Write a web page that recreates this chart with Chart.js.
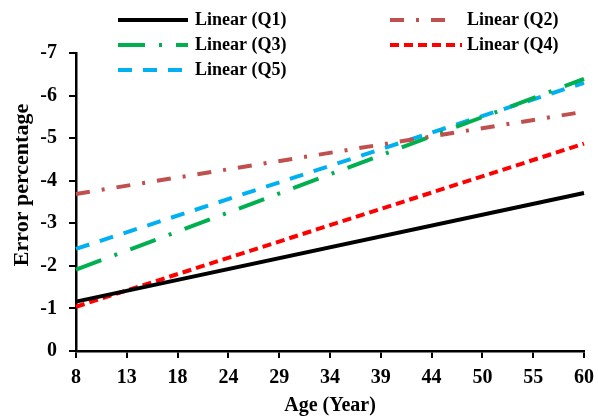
<!DOCTYPE html>
<html>
<head>
<meta charset="utf-8">
<script src="https://cdn.jsdelivr.net/npm/chart.js@4.4.1/dist/chart.umd.min.js"></script>
<style>
  body { margin: 0; background: #fff; }
</style>
</head>
<body>
<canvas id="grafico" width="598" height="416"></canvas>
<script>
const ctx = document.getElementById('grafico');

// eixo x (idade) e rotulos
let idades = ['8', '13', '18', '24', '29', '34', '39', '44', '50', '55', '60']
let yTicks = [0, -1, -2, -3, -4, -5, -6, -7]

// tendencias lineares: valor no inicio (8) e no fim (60)
let extremos = ['8', '60']
let q1 = [-1.16, -3.71]
let q2 = [-3.69, -5.62]
let q3 = [-1.91, -6.39]
let q4 = [-1.04, -4.87]
let q5 = [-2.40, -6.30]

const pontos = (vals) => extremos.map((x, i) => ({ x: x, y: vals[i] }))

const fonte = 'Liberation Serif, Times New Roman, serif'

// legenda em duas colunas + titulo do eixo y, desenhados a mao
const legenda = {
  id: 'legenda',
  afterDraw(chart) {
    const c = chart.ctx
    const pos = [
      { ds: 0, x: 118, y: 20, w: 70, tx: 195 },
      { ds: 1, x: 390, y: 20, w: 58, tx: 467 },
      { ds: 2, x: 118, y: 45, w: 70, tx: 195 },
      { ds: 3, x: 390, y: 45, w: 72, tx: 467 },
      { ds: 4, x: 118, y: 70, w: 68, tx: 195 }
    ]
    c.save()
    pos.forEach(p => {
      const d = chart.data.datasets[p.ds]
      c.strokeStyle = d.borderColor
      c.lineWidth = d.borderWidth
      c.setLineDash(d.borderDash || [])
      c.beginPath()
      c.moveTo(p.x, p.y)
      c.lineTo(p.x + p.w, p.y)
      c.stroke()
      c.setLineDash([])
      c.fillStyle = '#000'
      c.font = 'bold 18px ' + fonte
      c.textBaseline = 'middle'
      c.fillText(d.label, p.tx, p.y)
    })
    // titulo do eixo y (um pouco acima do centro, como no original)
    c.translate(22, 185)
    c.rotate(-Math.PI / 2)
    c.font = 'bold 22px ' + fonte
    c.textAlign = 'center'
    c.textBaseline = 'middle'
    c.fillText('Error percentage', 0, 0)
    c.restore()
  }
}

let grafico = new Chart(ctx, {
  type: 'line',
  data: {
    labels: idades,
    datasets: [
      { label: 'Linear (Q1)', data: pontos(q1), borderColor: '#000000', borderWidth: 4, borderDash: [] },
      { label: 'Linear (Q2)', data: pontos(q2), borderColor: '#C0504D', borderWidth: 4, borderDash: [14, 12, 3, 12] },
      { label: 'Linear (Q3)', data: pontos(q3), borderColor: '#00B050', borderWidth: 4, borderDash: [27, 14, 3, 14] },
      { label: 'Linear (Q4)', data: pontos(q4), borderColor: '#FF0000', borderWidth: 4, borderDash: [9, 5] },
      { label: 'Linear (Q5)', data: pontos(q5), borderColor: '#00B0F0', borderWidth: 4, borderDash: [14, 11] }
    ]
  },
  options: {
    responsive: false,
    animation: false,
    elements: { point: { radius: 0 }, line: { tension: 0 } },
    layout: { padding: { top: 53, right: 14, left: 11, bottom: 0 } },
    plugins: { legend: { display: false }, tooltip: { enabled: false } },
    scales: {
      x: {
        type: 'category',
        offset: false,
        afterFit: (s) => { s.height = 65; s.paddingRight = 0; s.paddingLeft = 0 },
        grid: { drawOnChartArea: false, drawTicks: true, tickLength: 7, color: '#000', lineWidth: 2 },
        border: { display: true, color: '#000', width: 2.5 },
        ticks: { color: '#000', padding: 8, maxRotation: 0, autoSkip: false, font: { family: fonte, size: 20, weight: 'bold' } },
        title: { display: true, text: 'Age (Year)', color: '#000', padding: 0, font: { family: fonte, size: 20, weight: 'bold', lineHeight: 1 } }
      },
      y: {
        min: -7,
        max: 0,
        reverse: true,
        afterFit: (s) => { s.width = 65 },
        afterBuildTicks: (s) => { s.ticks = yTicks.map(v => ({ value: v })) },
        grid: { drawOnChartArea: false, drawTicks: true, tickLength: 7, color: '#000', lineWidth: 2 },
        border: { display: true, color: '#000', width: 2.5 },
        ticks: { color: '#000', padding: 12, font: { family: fonte, size: 20, weight: 'bold' } },
        title: { display: false }
      }
    }
  },
  plugins: [legenda]
});
</script>
</body>
</html>
